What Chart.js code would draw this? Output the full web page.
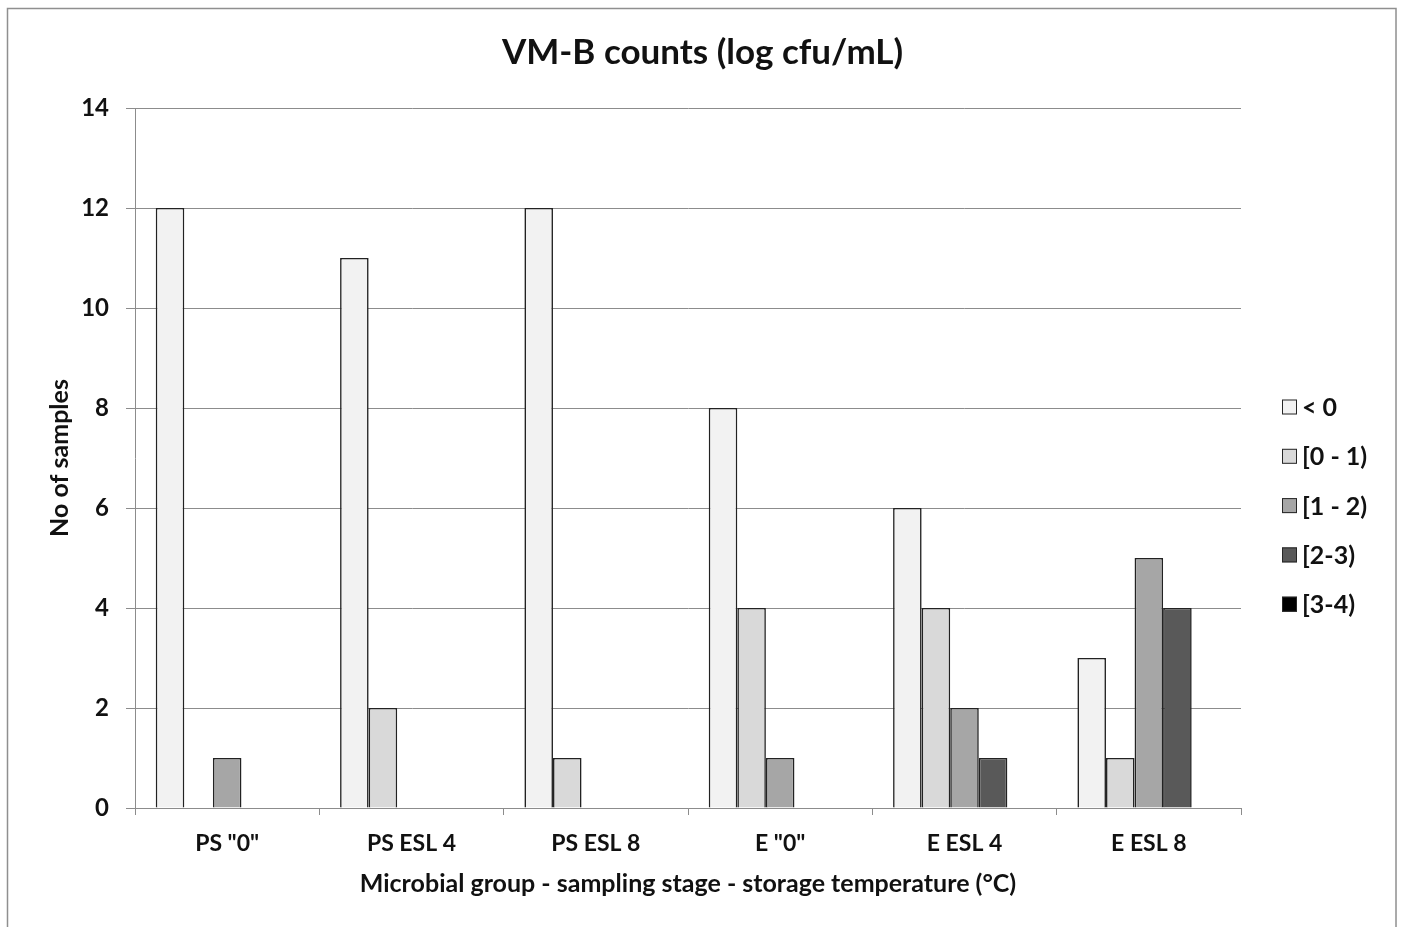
<!DOCTYPE html>
<html>
<head>
<meta charset="utf-8">
<script src="https://cdn.jsdelivr.net/npm/chart.js@4"></script>
<style>
  html, body { margin: 0; padding: 0; background: #fff; }
  #wrap { width: 1405px; height: 927px; }
</style>
</head>
<body>
<div id="wrap"><canvas id="vmbChart" width="1405" height="927"></canvas></div>
<script>
// Chart data
const categories = ['PS "0"', 'PS ESL 4', 'PS ESL 8', 'E "0"', 'E ESL 4', 'E ESL 8'];
const seriesLabels = ['< 0', '[0 - 1)', '[1 - 2)', '[2-3)', '[3-4)'];
const below0 = [12, 11, 12, 8, 6, 3];
const range0to1 = [0, 2, 1, 4, 4, 1];
const range1to2 = [1, 0, 0, 1, 2, 5];
const range2to3 = [0, 0, 0, 0, 1, 4];
const range3to4 = [0, 0, 0, 0, 0, 0];
const yTicks = [0, 2, 4, 6, 8, 10, 12, 14];

const seriesValues = [below0, range0to1, range1to2, range2to3, range3to4];
const seriesColors = ['#F2F2F2', '#D9D9D9', '#A6A6A6', '#595959', '#000000'];

const FONT = 'Lato, "Liberation Sans", sans-serif';
const GRID = '#8c8c8c';

// Outer frame round the whole chart
const framePlugin = {
    id: 'frame',
    beforeDraw(chart) {
        const ctx = chart.ctx;
        ctx.save();
        ctx.fillStyle = '#fff';
        ctx.fillRect(0, 0, chart.width, chart.height);
        ctx.strokeStyle = '#8f8f8f';
        ctx.lineWidth = 1.5;
        ctx.strokeRect(7.5, 8.5, 1388.5, 940);
        ctx.restore();
    }
};

// Legend on the right, drawn from the datasets
const sideLegend = {
    id: 'sideLegend',
    afterDraw(chart) {
        const ctx = chart.ctx;
        ctx.save();
        ctx.font = 'bold 25px ' + FONT;
        ctx.textBaseline = 'middle';
        ctx.textAlign = 'left';
        chart.data.datasets.forEach((ds, i) => {
            const cy = 407 + i * 49.3;
            ctx.fillStyle = ds.backgroundColor;
            ctx.fillRect(1282, cy - 7.5, 15, 15);
            ctx.strokeStyle = '#262626';
            ctx.lineWidth = 1;
            ctx.strokeRect(1282.5, cy - 7, 14, 14);
            ctx.fillStyle = '#111';
            ctx.fillText(ds.label, 1302, cy + 1);
        });
        ctx.restore();
    }
};

const ctx = document.getElementById('vmbChart').getContext('2d');
const vmbChart = new Chart(ctx, {
    type: 'bar',
    data: {
        labels: categories,
        datasets: seriesLabels.map((label, i) => ({
            label: label,
            data: seriesValues[i],
            backgroundColor: seriesColors[i],
            borderColor: '#222',
            borderWidth: 1.6,
            categoryPercentage: 0.775,
            barPercentage: 1.0
        }))
    },
    options: {
        responsive: false,
        animation: false,
        devicePixelRatio: 1,
        layout: {
            padding: 0
        },
        scales: {
            x: {
                afterFit: s => { s.height = 119; },
                grid: {
                    drawOnChartArea: false,
                    drawTicks: true,
                    tickLength: 7,
                    color: GRID
                },
                border: { color: GRID, width: 1 },
                ticks: {
                    color: '#111',
                    padding: 15,
                    font: { family: FONT, size: 23, weight: 'bold' }
                },
                title: {
                    display: true,
                    text: 'Microbial group - sampling stage - storage temperature (\u00B0C)',
                    color: '#111',
                    padding: { top: 0, bottom: 28 },
                    font: { family: FONT, size: 25, weight: 'bold' }
                }
            },
            y: {
                min: 0,
                max: 14,
                afterFit: s => { s.width = 135; },
                afterBuildTicks: s => { s.ticks = yTicks.map(v => ({ value: v })); },
                grid: {
                    color: GRID,
                    lineWidth: 1,
                    tickLength: 9
                },
                border: { color: GRID, width: 1 },
                ticks: {
                    color: '#111',
                    padding: 17,
                    font: { family: FONT, size: 24, weight: 'bold' }
                },
                title: {
                    display: true,
                    text: 'No of samples',
                    color: '#111',
                    padding: 45,
                    font: { family: FONT, size: 25, weight: 'bold' }
                }
            },
            // empty right-hand strip that keeps room for the legend
            side: {
                position: 'right',
                afterFit: s => { s.width = 164; },
                grid: { display: false },
                border: { display: false },
                ticks: { display: false }
            }
        },
        plugins: {
            legend: { display: false },
            tooltip: { enabled: false },
            title: {
                display: true,
                text: 'VM-B counts (log cfu/mL)',
                color: '#111',
                padding: { top: 32, bottom: 34 },
                font: { family: FONT, size: 35, weight: 'bold' }
            }
        }
    },
    plugins: [framePlugin, sideLegend]
});
</script>
</body>
</html>
